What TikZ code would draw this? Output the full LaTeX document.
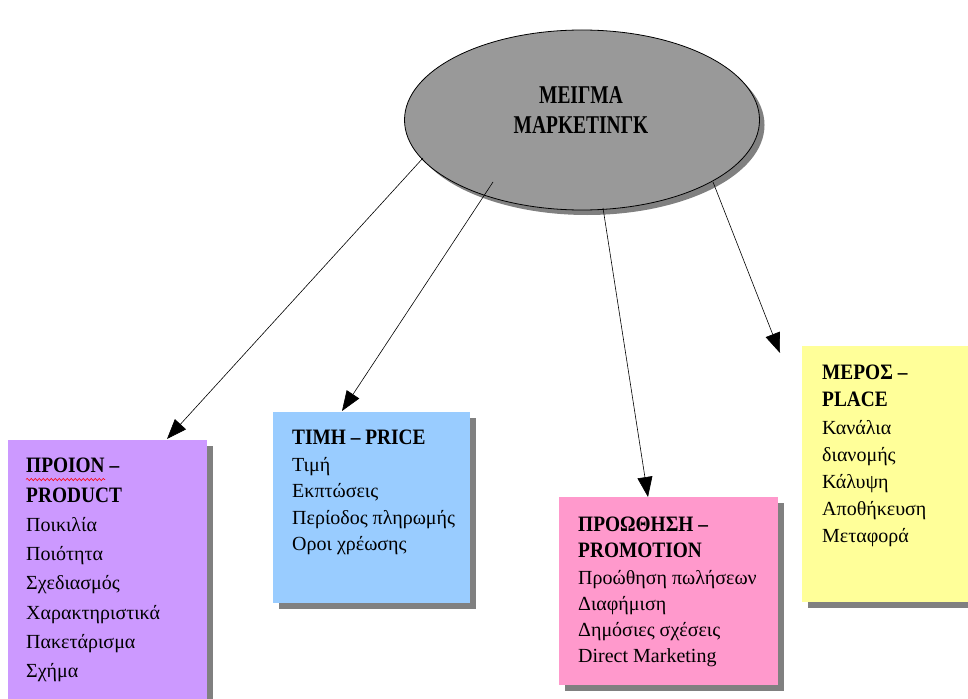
\documentclass[tikz,border=0pt]{standalone}
\usepackage{fontspec}
\setmainfont{Liberation Serif}
\newfontfamily\hfont[FakeStretch=0.88,Scale=1.1]{Liberation Serif}
\newfontfamily\efont[FakeStretch=0.76,Scale=1.28]{Liberation Serif}
\usetikzlibrary{arrows.meta,shapes.geometric,shadows,decorations.pathmorphing}
\definecolor{cpur}{HTML}{CC99FF}
\definecolor{cblu}{HTML}{99CCFF}
\definecolor{cpnk}{HTML}{FF99CC}
\definecolor{cyel}{HTML}{FFFF99}
\definecolor{cgry}{HTML}{999999}
\definecolor{cshd}{HTML}{808080}
\newcommand\hd[1]{{\hfont\bfseries #1}}
\tikzset{
  shd/.style={drop shadow={shadow xshift=6pt,shadow yshift=-6pt,opacity=1,fill=cshd}},
  box/.style={rectangle,anchor=north west,inner sep=0pt,shd},
  txt/.style={anchor=north west,align=left,inner sep=0pt},
  arr/.style={draw=black,line width=0.6pt,-{Triangle[length=20pt,width=15pt]}},
  wavy/.style={draw=red,line width=0.6pt,decorate,decoration={snake,amplitude=1.1pt,segment length=4pt}}
}
\begin{document}
\begin{tikzpicture}[x=1pt,y=-1pt]
\useasboundingbox (0,0) rectangle (968,698);
\clip (0,0) rectangle (968,698);
% central ellipse
\node[ellipse,draw=black,line width=0.8pt,fill=cgry,minimum width=355pt,minimum height=180pt,inner sep=0pt,
      drop shadow={shadow xshift=5pt,shadow yshift=-5pt,opacity=1,fill=cshd}] (mix) at (582,120) {};
\node[anchor=north,align=center,inner sep=0pt,font=\fontsize{20}{30}\selectfont] (mixt) at (581,86)
  {{\efont\bfseries ΜΕΙΓΜΑ}\\{\efont\bfseries ΜΑΡΚΕΤΙΝΓΚ}};
% boxes
\node[box,fill=cpur,minimum width=199pt,minimum height=280pt] (pur) at (8,440) {};
\node[box,fill=cblu,minimum width=197pt,minimum height=191pt] (blu) at (273,412) {};
\node[box,fill=cpnk,minimum width=219pt,minimum height=188pt] (pnk) at (559,497) {};
\node[box,fill=cyel,minimum width=180pt,minimum height=256pt] (yel) at (802,346) {};
% texts
\node[txt,font=\fontsize{20}{29.3}\selectfont] (purt) at (26,458)
  {\hd{ΠΡΟΙΟΝ –}\\ \hd{PRODUCT}\\ Ποικιλία\\ Ποιότητα\\ Σχεδιασμός\\ Χαρακτηριστικά\\ Πακετάρισμα\\ Σχήμα};
\node[txt,font=\fontsize{20}{26.5}\selectfont] (blut) at (292,430)
  {\hd{ΤΙΜΗ – PRICE}\\ Τιμή\\ Εκπτώσεις\\ Περίοδος πληρωμής\\ Οροι χρέωσης};
\node[txt,font=\fontsize{20}{26.2}\selectfont] (pnkt) at (578,517)
  {\hd{ΠΡΟΩΘΗΣΗ –}\\ \hd{PROMOTION}\\ Προώθηση πωλήσεων\\ Διαφήμιση\\ Δημόσιες σχέσεις\\ Direct Marketing};
\node[txt,font=\fontsize{20}{27.2}\selectfont] (yelt) at (822,365)
  {\hd{ΜΕΡΟΣ –}\\ \hd{PLACE}\\ Κανάλια\\ διανομής\\ Κάλυψη\\ Αποθήκευση\\ Μεταφορά};
% spelling underline
\coordinate (wa) at (26,479.5);
\coordinate (wb) at (105,479.5);
\draw[wavy] (wa) -- (wb);
% connectors
\coordinate (s1) at (423,158);
\coordinate (s2) at (493,182);
\coordinate (s3) at (603,208);
\coordinate (s4) at (713,182);
\coordinate (t1) at (167,439);
\coordinate (t2) at (342,411);
\coordinate (t3) at (648,497);
\coordinate (t4) at (780,353);
\draw[arr] (s1) -- (t1);
\draw[arr] (s2) -- (t2);
\draw[arr] (s3) -- (t3);
\draw[arr] (s4) -- (t4);
\end{tikzpicture}
\end{document}
